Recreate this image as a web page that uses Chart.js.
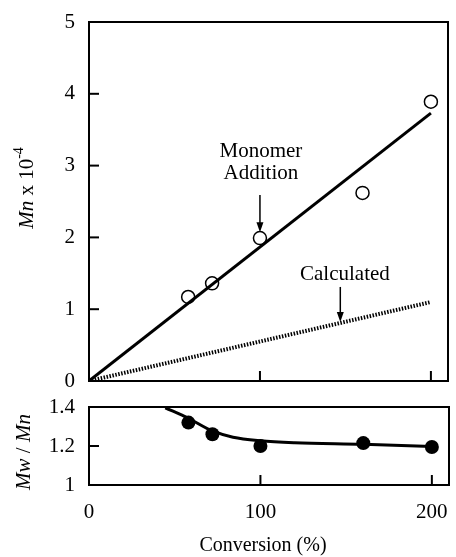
<!DOCTYPE html>
<html><head><meta charset="utf-8">
<script src="https://cdn.jsdelivr.net/npm/chart.js@4/dist/chart.umd.min.js"></script>
<style>
html,body{margin:0;padding:0;background:#fff;}
#wrap{position:relative;width:456px;height:557px;overflow:hidden;background:#fff;}
canvas{position:absolute;left:0;}
#c1{top:0;}
#c2{top:390px;}
</style></head><body>
<div id="wrap"><canvas id="c1" width="456" height="390"></canvas><canvas id="c2" width="456" height="167"></canvas></div>
<script>
// ---- data ----
const conversion = [58, 72, 100, 160, 200];
const mnMonomer = [1.17, 1.36, 1.99, 2.62, 3.89];
const monomerLineX = [0, 200];
const monomerLineY = [0, 3.73];
const calculatedX = [0, 200];
const calculatedY = [0, 1.10];
const pdiConversion = [58, 72, 100, 160, 200];
const pdi = [1.32, 1.26, 1.20, 1.215, 1.195];
const pdiCurveX = [44.5, 58, 72, 84, 100, 120, 160, 200];
const pdiCurveY = [1.396, 1.342, 1.277, 1.245, 1.227, 1.217, 1.209, 1.197];
const xTicks = [0, 100, 200];
const mnTicks = [0, 1, 2, 3, 4, 5];
const pdiTicks = [1, 1.2, 1.4];
const xInnerTicks = [100, 200];
const mnInnerTicks = [1, 2, 3, 4];
const pdiInnerTicks = [1.2];

const SERIF = "'Liberation Serif', 'Times New Roman', serif";
const pts = (xs, ys) => xs.map((x, i) => ({x: x, y: ys[i]}));

function drawRich(ctx, parts, cx, cy, rot) {
  ctx.save();
  ctx.translate(cx, cy);
  if (rot) ctx.rotate(rot);
  ctx.textBaseline = 'middle';
  ctx.textAlign = 'left';
  ctx.fillStyle = '#000';
  let total = 0;
  parts.forEach(p => { ctx.font = p.f; p.w = ctx.measureText(p.t).width; total += p.w; });
  let x = -total / 2;
  parts.forEach(p => { ctx.font = p.f; ctx.fillText(p.t, x, p.dy || 0); x += p.w; });
  ctx.restore();
}

function arrow(ctx, x, y1, y2) {
  ctx.save();
  ctx.strokeStyle = '#000'; ctx.fillStyle = '#000'; ctx.lineWidth = 1.5;
  ctx.beginPath(); ctx.moveTo(x, y1); ctx.lineTo(x, y2 - 8); ctx.stroke();
  ctx.beginPath(); ctx.moveTo(x - 3.5, y2 - 10); ctx.lineTo(x + 3.5, y2 - 10); ctx.lineTo(x, y2); ctx.closePath(); ctx.fill();
  ctx.restore();
}

const framePlugin = {
  id: 'frame',
  afterDatasetsDraw(chart, args, opts) {
    const {ctx, chartArea: a, scales} = chart;
    ctx.save();
    ctx.strokeStyle = '#000';
    ctx.lineWidth = 2;
    ctx.strokeRect(a.left, a.top, a.right - a.left, a.bottom - a.top);
    const tl = 10;
    (opts.xTicks || []).forEach(v => {
      const px = scales.x.getPixelForValue(v);
      ctx.beginPath(); ctx.moveTo(px, a.bottom); ctx.lineTo(px, a.bottom - tl); ctx.stroke();
    });
    (opts.yTicks || []).forEach(v => {
      const py = scales.y.getPixelForValue(v);
      ctx.beginPath(); ctx.moveTo(a.left, py); ctx.lineTo(a.left + tl, py); ctx.stroke();
    });
    ctx.restore();
    if (opts.extra) opts.extra(chart);
  }
};

const tickFont = {family: SERIF, size: 21};
const fitX = h => sc => { sc.height = h; sc.paddingLeft = 0; sc.paddingRight = 0; sc.paddingTop = 0; sc.paddingBottom = 0; };
const fitY = w => sc => { sc.width = w; sc.paddingLeft = 0; sc.paddingRight = 0; sc.paddingTop = 0; sc.paddingBottom = 0; };

// ---- top chart ----
new Chart(document.getElementById('c1'), {
  type: 'scatter',
  data: {
    datasets: [
      {data: pts(monomerLineX, monomerLineY), showLine: true, borderColor: '#000', borderWidth: 3, pointRadius: 0},
      {data: pts(calculatedX, calculatedY), showLine: true, borderColor: '#000', borderWidth: 4, borderDash: [1.5, 1.5], pointRadius: 0},
      {data: pts(conversion, mnMonomer), showLine: false, pointRadius: 6.5, pointBackgroundColor: '#fff', pointBorderColor: '#000', pointBorderWidth: 1.5}
    ]
  },
  options: {
    responsive: false, animation: false, devicePixelRatio: 1,
    layout: {padding: {top: 22, right: 3, left: 0, bottom: 0}},
    plugins: {
      legend: {display: false}, tooltip: {enabled: false},
      frame: {
        xTicks: xInnerTicks, yTicks: mnInnerTicks,
        extra(chart) {
          const {ctx, scales: s} = chart;
          const f = '21px ' + SERIF;
          ctx.save();
          ctx.fillStyle = '#000'; ctx.textAlign = 'center'; ctx.textBaseline = 'middle'; ctx.font = f;
          const mx = s.x.getPixelForValue(100);
          ctx.fillText('Monomer', mx + 1, s.y.getPixelForValue(3.19));
          ctx.fillText('Addition', mx + 1, s.y.getPixelForValue(2.89));
          const cx = s.x.getPixelForValue(149.7);
          ctx.fillText('Calculated', cx, s.y.getPixelForValue(1.48));
          ctx.restore();
          arrow(ctx, mx, s.y.getPixelForValue(2.59), s.y.getPixelForValue(2.07));
          arrow(ctx, s.x.getPixelForValue(147), s.y.getPixelForValue(1.31), s.y.getPixelForValue(0.82));
          drawRich(ctx, [
            {t: 'Mn', f: 'italic 21px ' + SERIF},
            {t: ' x 10', f: '21px ' + SERIF},
            {t: '-4', f: '14px ' + SERIF, dy: -8}
          ], 27, 188, -Math.PI / 2);
        }
      }
    },
    scales: {
      x: {
        type: 'linear', min: 0, max: 210,
        afterBuildTicks: sc => { sc.ticks = xTicks.map(v => ({value: v})); },
        ticks: {display: false},
        grid: {display: false, drawTicks: false}, border: {display: false},
        afterFit: fitX(9)
      },
      y: {
        type: 'linear', min: 0, max: 5,
        afterBuildTicks: sc => { sc.ticks = mnTicks.map(v => ({value: v})); },
        ticks: {font: tickFont, color: '#000', padding: 14, callback: v => String(v)},
        grid: {display: false, drawTicks: false}, border: {display: false},
        afterFit: fitY(89)
      }
    }
  },
  plugins: [framePlugin]
});

// ---- bottom chart ----
new Chart(document.getElementById('c2'), {
  type: 'scatter',
  data: {
    datasets: [
      {data: pts(pdiCurveX, pdiCurveY), showLine: true, cubicInterpolationMode: 'monotone', borderColor: '#000', borderWidth: 3, pointRadius: 0},
      {data: pts(pdiConversion, pdi), showLine: false, pointRadius: 7, pointBackgroundColor: '#000', pointBorderColor: '#000', pointBorderWidth: 0}
    ]
  },
  options: {
    responsive: false, animation: false, devicePixelRatio: 1,
    layout: {padding: {top: 17, right: 3, left: 0, bottom: 0}},
    plugins: {
      legend: {display: false}, tooltip: {enabled: false},
      frame: {
        xTicks: xInnerTicks, yTicks: pdiInnerTicks,
        extra(chart) {
          const {ctx} = chart;
          drawRich(ctx, [
            {t: 'Mw', f: 'italic 21px ' + SERIF},
            {t: ' / ', f: '21px ' + SERIF},
            {t: 'Mn', f: 'italic 21px ' + SERIF}
          ], 24, 62, -Math.PI / 2);
          drawRich(ctx, [{t: 'Conversion (%)', f: '20px ' + SERIF}], 263, 156, 0);
        }
      }
    },
    scales: {
      x: {
        type: 'linear', min: 0, max: 210,
        afterBuildTicks: sc => { sc.ticks = xTicks.map(v => ({value: v})); },
        ticks: {font: tickFont, color: '#000', padding: 15, maxRotation: 0, callback: v => String(v)},
        grid: {display: false, drawTicks: false}, border: {display: false},
        afterFit: fitX(72)
      },
      y: {
        type: 'linear', min: 1, max: 1.4,
        afterBuildTicks: sc => { sc.ticks = pdiTicks.map(v => ({value: v})); },
        ticks: {font: tickFont, color: '#000', padding: 14, callback: v => String(+Number(v).toFixed(1))},
        grid: {display: false, drawTicks: false}, border: {display: false},
        afterFit: fitY(89)
      }
    }
  },
  plugins: [framePlugin]
});
</script>
</body></html>
